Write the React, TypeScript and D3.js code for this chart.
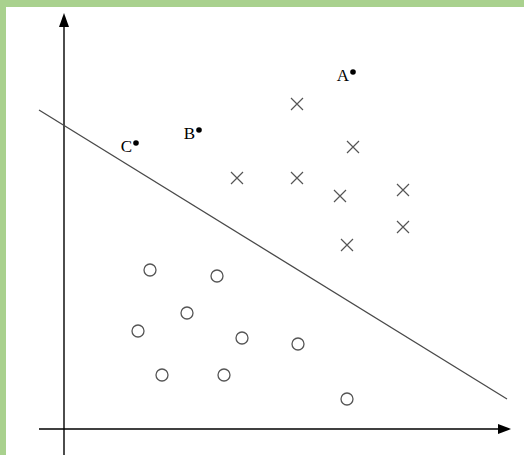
import React from "react";
import * as d3 from "d3";

const crossX = [58.25, 72.25, 43.25, 58.25, 69, 84.75, 84.75, 70.75];
const crossY = [81.25, 70.5, 62.75, 62.75, 58.25, 59.75, 50.5, 46];

const circleX = [21.5, 38.25, 30.75, 18.5, 44.5, 58.5, 24.5, 40, 70.75];
const circleY = [39.75, 38.25, 29, 24.5, 22.75, 21.25, 13.5, 13.5, 7.5];

const labels = ["A", "B", "C"];
const labelX = [72.25, 33.75, 18];
const labelY = [89.25, 74.75, 71.5];

const lineX = [-6.25, 110.75];
const lineY = [79.75, 7.5];

const xAxisRange = [-6.25, 111.75];
const yAxisRange = [-6.5, 104];

const W = 524;
const H = 455;

export default function App() {
  const x = d3.scaleLinear().domain([0, 100]).range([64, 464]);
  const y = d3.scaleLinear().domain([0, 100]).range([429, 29]);
  const line = d3
    .line<number>()
    .x((d) => x(lineX[d]))
    .y((d) => y(lineY[d]));

  const x0 = x(0);
  const y0 = y(0);
  const xTip = x(xAxisRange[1]);
  const yTip = y(yAxisRange[1]);
  const green = "#a9d18e";

  return (
    <svg
      width={W}
      height={H}
      style={{ position: "absolute", left: 0, top: 0, display: "block" }}
    >
      <rect x={0} y={0} width={W} height={H} fill="#ffffff" />
      <rect x={0} y={0} width={W} height={7} fill={green} />
      <rect x={0} y={0} width={6} height={H} fill={green} />

      {/* axes */}
      <line x1={x(xAxisRange[0])} y1={y0} x2={xTip - 10} y2={y0} stroke="#000" strokeWidth={1.4} />
      <path d={`M${xTip},${y0} L${xTip - 13},${y0 - 5} L${xTip - 13},${y0 + 5} Z`} fill="#000" />
      <line x1={x0} y1={y(yAxisRange[0])} x2={x0} y2={yTip + 10} stroke="#000" strokeWidth={1.4} />
      <path d={`M${x0},${yTip} L${x0 - 5},${yTip + 14} L${x0 + 5},${yTip + 14} Z`} fill="#000" />

      {/* separating line */}
      <path d={line([0, 1]) || ""} stroke="#4a4a4a" strokeWidth={1.3} fill="none" />

      {/* crosses */}
      {crossX.map((cx, i) => {
        const px = x(cx);
        const py = y(crossY[i]);
        const s = 6;
        return (
          <path
            key={"x" + i}
            d={`M${px - s},${py - s} L${px + s},${py + s} M${px - s},${py + s} L${px + s},${py - s}`}
            stroke="#555"
            strokeWidth={1.2}
            fill="none"
          />
        );
      })}

      {/* circles */}
      {circleX.map((cx, i) => (
        <circle
          key={"c" + i}
          cx={x(cx)}
          cy={y(circleY[i])}
          r={6}
          fill="none"
          stroke="#555"
          strokeWidth={1.3}
        />
      ))}

      {/* labelled points */}
      {labels.map((t, i) => {
        const px = x(labelX[i]);
        const py = y(labelY[i]);
        return (
          <g key={t}>
            <circle cx={px} cy={py} r={2.8} fill="#000" />
            <text
              x={px - 4}
              y={py + 9}
              textAnchor="end"
              fontFamily="'Liberation Serif', 'DejaVu Serif', serif"
              fontSize={17}
              fill="#000"
            >
              {t}
            </text>
          </g>
        );
      })}
    </svg>
  );
}
